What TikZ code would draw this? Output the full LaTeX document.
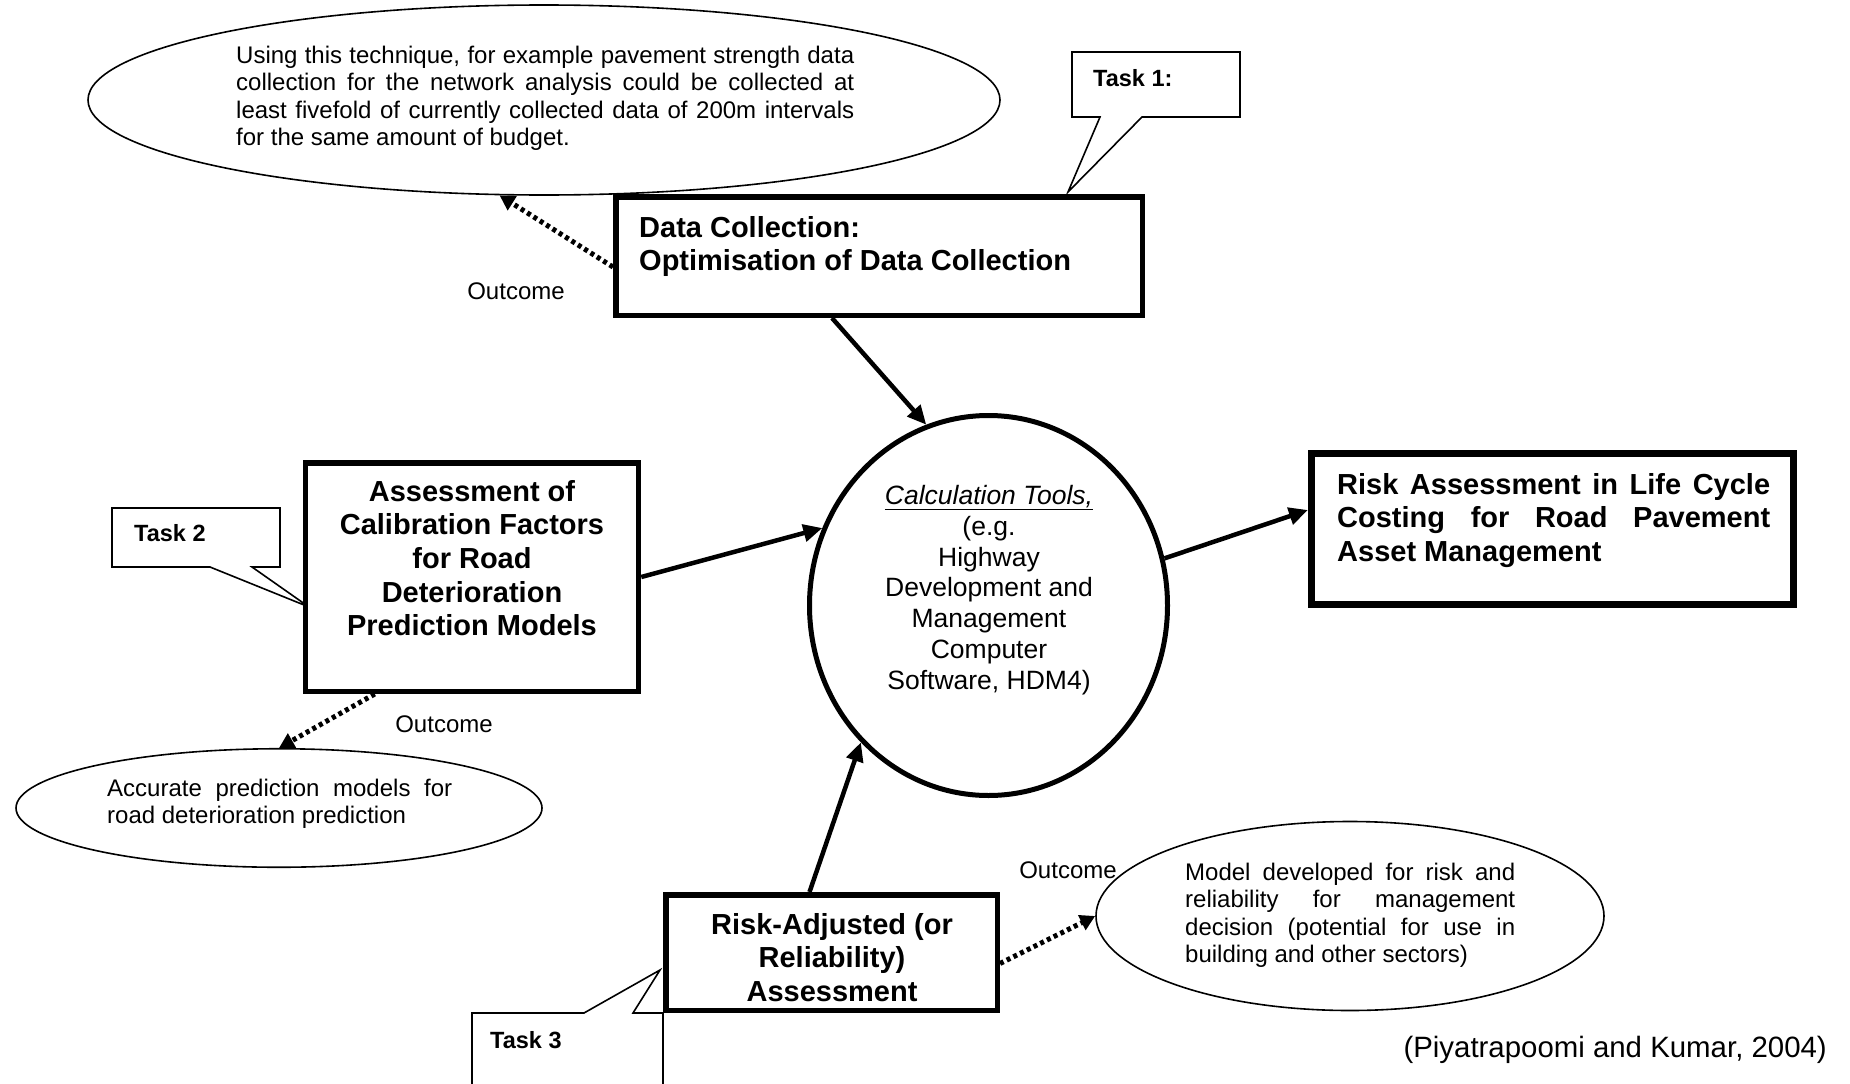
\documentclass[tikz,border=0pt]{standalone}
\usepackage{fontspec}
\setmainfont{Liberation Sans}
\usepackage{tikz}
\usetikzlibrary{arrows.meta,shapes.geometric}
\tolerance=9999 \hyphenpenalty=10000 \hbadness=10000

\begin{document}
\begin{tikzpicture}[x=1pt, y=-1pt,
  every node/.style={inner sep=0pt},
  mainbox/.style={draw, fill=white, line width=5.5pt},
  bubble/.style={draw, ellipse, line width=1.6pt},
  headtxt/.style={font=\fontsize{29}{33.6}\selectfont\bfseries},
  bodytxt/.style={font=\fontsize{24}{27.3}\selectfont},
  tasktxt/.style={font=\fontsize{23.5}{27}\selectfont\bfseries, anchor=west},
  calloutline/.style={draw, fill=white, line width=1.6pt},
  flow/.style={line width=4.5pt, -{Triangle[length=19pt, width=17pt]}},
  outcome/.style={line width=5pt, dash pattern=on 4pt off 3.5pt, -{Triangle[length=15pt, width=16pt]}}]
\useasboundingbox (0,0) rectangle (1850,1084);

\node[bubble, minimum width=912pt, minimum height=190pt] (te) at (544,100) {};
\node[bubble, minimum width=526pt, minimum height=118.5pt] (le) at (279,808) {};
\node[bubble, minimum width=508pt, minimum height=189pt] (re) at (1350,916) {};
\node[bodytxt, anchor=north west, text width=618pt, align=justify] (tet) at (236,46) {Using this technique, for example pavement strength data\linebreak collection for the network analysis could be collected at\linebreak least fivefold of currently collected data of 200m intervals\linebreak for the same amount of budget.};
\node[bodytxt, anchor=north west, text width=345pt, align=justify] (let) at (107,779) {Accurate prediction models for\linebreak road deterioration prediction};
\node[bodytxt, anchor=north west, text width=330pt, align=justify] (ret) at (1185,863) {Model developed for risk and\linebreak reliability for management\linebreak decision (potential for use in\linebreak building and other sectors)};

\draw[calloutline] (1072,52) -- (1240,52) -- (1240,117) -- (1142,117) -- (1068,192) -- (1100,117) -- (1072,117) -- cycle;
\node[tasktxt] (t1) at (1093,78) {Task 1:};
\draw[calloutline] (112,508) -- (280,508) -- (280,567) -- (252,567) -- (309,607) -- (210,567) -- (112,567) -- cycle;
\node[tasktxt] (t2) at (134,533) {Task 2};
\draw[calloutline] (472,1013) -- (584,1013) -- (660,970) -- (633,1013) -- (663,1013) -- (663,1100) -- (472,1100) -- cycle;
\node[tasktxt] (t3) at (490,1040) {Task 3};

\node[mainbox, minimum width=526.5pt, minimum height=118.5pt] (dc) at (879,256) {};
\node[headtxt, anchor=north west, align=left] (dct) at (639,216) {Data Collection:\\Optimisation of Data Collection};
\node[mainbox, minimum width=333pt, minimum height=228.5pt] (ab) at (472,577) {};
\node[headtxt, anchor=north, align=center] (abt) at (472,480) {Assessment of\\Calibration Factors\\for Road\\Deterioration\\Prediction Models};
\node[mainbox, line width=7pt, minimum width=482pt, minimum height=151pt] (rb) at (1552.5,529) {};
\node[headtxt, anchor=north west, text width=433pt, align=justify] (rbt) at (1337,473) {Risk Assessment in Life Cycle\linebreak Costing for Road Pavement\linebreak Asset Management};
\node[mainbox, minimum width=331.5pt, minimum height=115.5pt] (rj) at (831.5,952.5) {};
\node[headtxt, anchor=north, align=center] (rjt) at (832,913) {Risk-Adjusted (or\\Reliability)\\Assessment};

\node[draw, ellipse, line width=5pt, minimum width=358pt, minimum height=380pt] (cc) at (988.5,605.5) {};
\node[font=\fontsize{26.5}{30.8}\selectfont, anchor=north, align=center] (cct) at (989,485) {\underline{\textit{Calculation Tools,}}\\(e.g.\\Highway\\Development and\\Management\\Computer\\Software, HDM4)};

\draw[flow] ([xshift=219pt]dc.south west) -- (cc.109);
\draw[flow] (ab.east) -- (cc.155);
\draw[flow] ([xshift=-22pt]rj.north) -- (cc.227);
\draw[flow] (cc.15) -- ([yshift=19pt]rb.west);

\draw[outcome] ([yshift=-11pt]dc.west) -- (te.-115);
\draw[outcome] ([xshift=72pt]ab.south west) -- (le.north);
\draw[outcome] ([yshift=-11pt]rj.east) -- (re.west);
\node[bodytxt] (o1) at (516,291) {Outcome};
\node[bodytxt] (o2) at (444,724) {Outcome};
\node[bodytxt] (o3) at (1068,870) {Outcome};

\node[font=\fontsize{29.4}{34}\selectfont, anchor=base east] (src) at (1827,1057) {(Piyatrapoomi and Kumar, 2004)};
\end{tikzpicture}
\end{document}
